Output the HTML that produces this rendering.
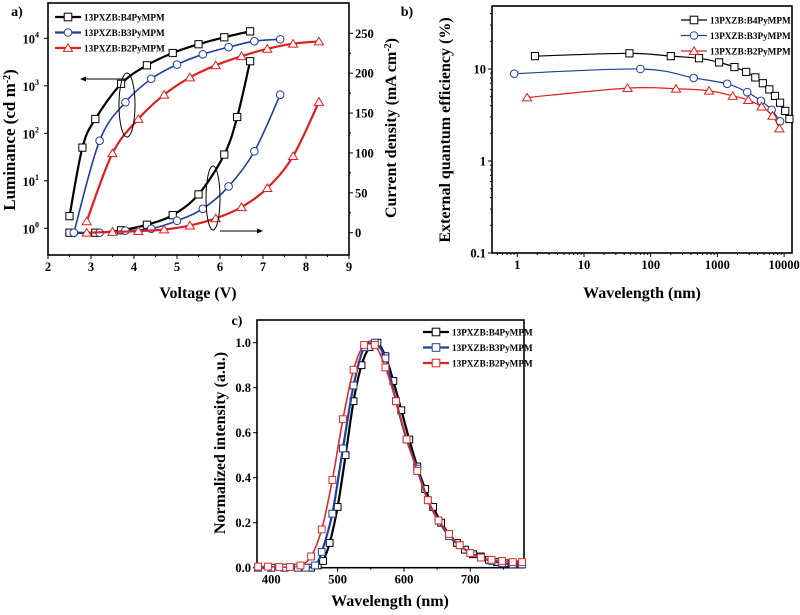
<!DOCTYPE html>
<html><head><meta charset="utf-8"><style>
body{margin:0;background:#fff;}
svg{font-family:"Liberation Serif",serif;font-weight:bold;}
</style></head><body>
<svg id="fig" width="800" height="610" xmlns="http://www.w3.org/2000/svg"></svg>
<script>
// ---------- Panel a data ----------
const aV_B4=[2.5,2.8,3.1,3.7,4.3,4.9,5.5,6.1,6.7];
const aL_B4=[1.8,50,200,1100,2700,4900,7500,10500,14000];
const aV_B3=[2.6,3.2,3.8,4.4,5.0,5.6,6.2,6.8,7.4];
const aL_B3=[0.8,70,450,1400,2800,4600,6500,8700,9500];
const aV_B2=[2.9,3.5,4.1,4.7,5.3,5.9,6.5,7.1,7.7,8.3];
const aL_B2=[1.4,38,200,650,1500,2700,4200,6000,7700,8600];
const jV_B4=[2.5,3.1,3.7,4.3,4.9,5.5,6.1,6.4,6.7];
const jJ_B4=[0,0,3,10,22,48,98,145,215];
const jV_B3=[2.6,3.2,3.8,4.4,5.0,5.6,6.2,6.8,7.4];
const jJ_B3=[0,0,2.5,5,15,30,58,102,173];
const jV_B2=[2.9,3.5,4.1,4.7,5.3,5.9,6.5,7.1,7.7,8.3];
const jJ_B2=[0,1,2,4,9,18,32,56,96,164];
const aXTicks=[2,3,4,5,6,7,8,9];
const aLTicks=[0,1,2,3,4];
const aJTicks=[0,50,100,150,200,250];
// ---------- Panel b data ----------
const bX_B4=[1.84,48,200,530,1060,1800,2700,3700,4800,6000,7300,8700,10400,12000];
const bY_B4=[13.8,14.8,13.8,13.1,11.8,10.5,9.3,8.1,7.0,6.0,5.1,4.3,3.5,2.86];
const bX_B3=[0.9,70,440,1400,2800,4500,6500,8700];
const bY_B3=[8.9,10,8.0,6.9,5.6,4.5,3.6,2.7];
const bX_B2=[1.4,45,240,750,1700,2900,4600,6700,8500];
const bY_B2=[4.9,6.2,6.1,5.8,5.1,4.6,3.9,3.1,2.26];
const bXTicks=[1,10,100,1000,10000];
const bYTicks=[0.1,1,10];
// ---------- Panel c data ----------
const cX_B4=[380,400,420,440,460,470,478,488,500,512,524,536,548,560,572,584,596,608,620,632,644,656,668,680,692,704,716,728,740,752,764,776];
const cY_B4=[0,0,0,0,0,0.01,0.03,0.11,0.27,0.50,0.74,0.90,0.98,1.0,0.94,0.83,0.70,0.57,0.45,0.35,0.27,0.20,0.15,0.11,0.08,0.06,0.05,0.035,0.025,0.02,0.015,0.015];
const cX_B3=[380,400,420,440,452,466,476,492,508,524,540,556,572,588,604,620,636,652,668,684,700,716,732,748,764,778];
const cY_B3=[0,0,0,0,0,0.01,0.07,0.24,0.53,0.81,0.98,1.0,0.93,0.74,0.57,0.44,0.30,0.21,0.14,0.10,0.065,0.045,0.03,0.02,0.015,0.015];
const cX_B2=[380,395,412,428,444,460,476,492,508,524,540,556,572,588,604,620,636,652,668,684,700,716,732,748,764,778];
const cY_B2=[0.005,0.005,0.003,0.003,0.01,0.05,0.17,0.39,0.66,0.88,0.99,0.99,0.89,0.74,0.57,0.43,0.30,0.21,0.15,0.10,0.065,0.045,0.035,0.03,0.025,0.025];
const cXTicks=[400,500,600,700];
const cYTicks=[0,0.2,0.4,0.6,0.8,1.0];
const seriesNames=["13PXZB:B4PyMPM","13PXZB:B3PyMPM","13PXZB:B2PyMPM"];

const NS="http://www.w3.org/2000/svg";
const svg=document.getElementById('fig');
function mk(tag,attrs,parent,txt){const e=document.createElementNS(NS,tag);for(const k in attrs)e.setAttribute(k,attrs[k]);if(txt!==undefined)e.textContent=txt;(parent||svg).appendChild(e);return e;}
function smooth(pts){
  if(pts.length<2)return '';
  let d='M'+pts[0][0]+','+pts[0][1];
  for(let i=0;i<pts.length-1;i++){
    const p0=pts[i-1]||pts[i],p1=pts[i],p2=pts[i+1],p3=pts[i+2]||p2;
    const c1=[p1[0]+(p2[0]-p0[0])/6,p1[1]+(p2[1]-p0[1])/6];
    const c2=[p2[0]-(p3[0]-p1[0])/6,p2[1]-(p3[1]-p1[1])/6];
    d+=' C'+c1[0]+','+c1[1]+' '+c2[0]+','+c2[1]+' '+p2[0]+','+p2[1];
  }
  return d;
}
function marker(g,shape,x,y,col,s){
  let e;
  if(shape==='sq'){e=mk('rect',{x:x-s,y:y-s,width:2*s,height:2*s,fill:'#fff',stroke:col,'stroke-width':1},g);}
  else if(shape==='ci'){e=mk('circle',{cx:x,cy:y,r:s,fill:'#fff',stroke:col,'stroke-width':1},g);}
  else {e=mk('polygon',{points:(x)+','+(y-s*1.1)+' '+(x-s*1.2)+','+(y+s*0.9)+' '+(x+s*1.2)+','+(y+s*0.9),fill:'#fff',stroke:col,'stroke-width':1},g);}
  
  
}
function series(name,xs,ys,fx,fy,col,shape,s,w){
  const g=mk('g',{});
  
  
  const pts=xs.map((x,i)=>[fx(x),fy(ys[i])]);
  mk('path',{d:smooth(pts),fill:'none',stroke:col,'stroke-width':w},g);
  pts.forEach(p=>marker(g,shape,p[0],p[1],col,s));
}
function text(x,y,t,size,anchor,name,rot){
  const e=mk('text',{x:x,y:y,'font-size':size,'text-anchor':anchor||'middle'},svg,t);
  if(rot)e.setAttribute('transform','rotate('+rot+' '+x+' '+y+')');
  
  
  return e;
}
function box(x0,y0,x1,y1,name){
  const e=mk('rect',{x:x0,y:y0,width:x1-x0,height:y1-y0,fill:'none',stroke:'#000','stroke-width':1.6});
  
  
}
function line(x1,y1,x2,y2,w){mk('line',{x1,y1,x2,y2,stroke:'#000','stroke-width':w||1});}
function legend(x,y,cols,shapes,ws,name){
  const g=mk('g',{});
  
  
  seriesNames.forEach((n,i)=>{
    const yy=y+i*15.5;
    mk('line',{x1:x,y1:yy,x2:x+26,y2:yy,stroke:cols[i],'stroke-width':ws},g);
    marker(g,shapes[i],x+13,yy,cols[i],3.8);
    const t=mk('text',{x:x+29,y:yy+3.5,'font-size':9.2},g,n);
    
    
  });
}
const COL=['#000','#1f3f9a','#e01f1f'];
const TK=12.5, TT=16;

// ===== Panel a =====
const aX0=48,aX1=349,aY0=3,aY1=255;
const ax=v=>aX0+(v-2)*(aX1-aX0)/7;
const al=v=>228.3-Math.log10(v)*47.5;
const aj=v=>232.7-v*0.7976;
box(aX0,aY0,aX1,aY1,'plot-area-a');
aXTicks.forEach(t=>{line(ax(t),aY1,ax(t),aY1+4);text(ax(t),aY1+16,String(t),TK,'middle','x-tick-label');if(t<9)line(ax(t+0.5),aY1,ax(t+0.5),aY1+2);});
aLTicks.forEach(t=>{const y=al(Math.pow(10,t));line(aX0-4,y,aX0,y);
  const e=text(aX0-9,y+5,'10',TK,'end','y-tick-label');mk('tspan',{dy:-6,'font-size':8},e,String(t));});
aJTicks.forEach(t=>{const y=aj(t);line(aX1,y,aX1+4,y);text(aX1+6,y+4.5,String(t),TK,'start','y2-tick-label');if(t<250)line(aX1,aj(t+25),aX1+2,aj(t+25));});
text(17,16,'a)',14,'middle','panel-label-a');
{const e=text(15,140,'Luminance (cd m',17,'middle','y-axis-title-luminance',-90);mk('tspan',{dy:-5,'font-size':10},e,'-2');mk('tspan',{dy:5},e,')');}
{const e=text(396,128,'Current density (mA cm',TT,'middle','y-axis-title-current',-90);mk('tspan',{dy:-5,'font-size':10},e,'-2');mk('tspan',{dy:5},e,')');}
text(198,298,'Voltage (V)',TT,'middle','x-axis-title-voltage');
series('luminance-b4',aV_B4,aL_B4,ax,al,COL[0],'sq',3.6,2.2);
series('luminance-b3',aV_B3,aL_B3,ax,al,COL[1],'ci',3.8,1.6);
series('luminance-b2',aV_B2,aL_B2,ax,al,COL[2],'tr',3.8,2.2);
series('current-b4',jV_B4,jJ_B4,ax,aj,COL[0],'sq',3.6,2.2);
series('current-b3',jV_B3,jJ_B3,ax,aj,COL[1],'ci',3.8,1.6);
series('current-b2',jV_B2,jJ_B2,ax,aj,COL[2],'tr',3.8,2.2);
mk('ellipse',{cx:127,cy:105,rx:8,ry:32,fill:'none',stroke:'#000','stroke-width':1});
mk('ellipse',{cx:213,cy:198,rx:7,ry:32,fill:'none',stroke:'#000','stroke-width':1});
line(127,79,84,79);mk('polygon',{points:'80,79 86,76.5 86,81.5',fill:'#000'});
line(220,231,258,231);mk('polygon',{points:'263,231 257,228.5 257,233.5',fill:'#000'});
legend(55,17,COL,['sq','ci','tr'],2.2,'legend-a');

// ===== Panel b =====
const bX0=492,bX1=792,bY0=6,bY1=253;
const bx=v=>517.3+Math.log10(v)*66.7;
const by=v=>161-Math.log10(v)*92;
box(bX0,bY0,bX1,bY1,'plot-area-b');
bXTicks.forEach(t=>{line(bx(t),bY1,bx(t),bY1+4);text(bx(t),bY1+16,String(t),TK,'middle','x-tick-label');
  for(let k=2;k<10;k++){const xx=bx(t*k);if(xx<bX1)line(xx,bY1,xx,bY1+2);}});
for(let k=5;k<10;k++)line(bx(k/10),bY1,bx(k/10),bY1+2);
bYTicks.forEach(t=>{line(bX0-4,by(t),bX0,by(t));text(bX0-6,by(t)+4.5,String(t),TK,'end','y-tick-label');
  for(let k=2;k<10;k++){const yy=by(t*k);if(yy>bY0)line(bX0-2,yy,bX0,yy);}});
text(407,16,'b)',14,'middle','panel-label-b');
text(450,130,'External quantum efficiency (%)',TT,'middle','y-axis-title-eqe',-90);
text(642,298,'Wavelength (nm)',TT,'middle','x-axis-title-b');
series('eqe-b4',bX_B4,bY_B4,bx,by,COL[0],'sq',3.6,1.2);
series('eqe-b3',bX_B3,bY_B3,bx,by,COL[1],'ci',3.8,1.2);
series('eqe-b2',bX_B2,bY_B2,bx,by,COL[2],'tr',3.8,1.2);
legend(681,20,COL,['sq','ci','tr'],1.2,'legend-b');

// ===== Panel c =====
const cX0=257,cX1=524,cY0=320,cY1=567.7;
const cx=v=>271.3+(v-400)*0.6633;
const cy=v=>567.7-v*225;
box(cX0,cY0,cX1,cY1,'plot-area-c');
cXTicks.forEach(t=>{line(cx(t),cY1,cx(t),cY1+4);text(cx(t),cY1+16,String(t),TK,'middle','x-tick-label');line(cx(t+50),cY1,cx(t+50),cY1+2);});
cYTicks.forEach(t=>{line(cX0-4,cy(t),cX0,cy(t));text(cX0-6,cy(t)+4.5,t.toFixed(1),TK,'end','y-tick-label');});
text(237,325,'c)',14,'middle','panel-label-c');
text(225,443,'Normalized  intensity (a.u.)',TT,'middle','y-axis-title-intensity',-90);
text(390,606,'Wavelength (nm)',TT,'middle','x-axis-title-c');
series('spectrum-b4',cX_B4,cY_B4,cx,cy,COL[0],'sq',3.4,2.2);
series('spectrum-b3',cX_B3,cY_B3,cx,cy,COL[1],'sq',3.4,2.2);
series('spectrum-b2',cX_B2,cY_B2,cx,cy,'#e02a2a','sq',3.4,1.6);
legend(423,332,COL,['sq','sq','sq'],2.2,'legend-c');
</script>
</body></html>
